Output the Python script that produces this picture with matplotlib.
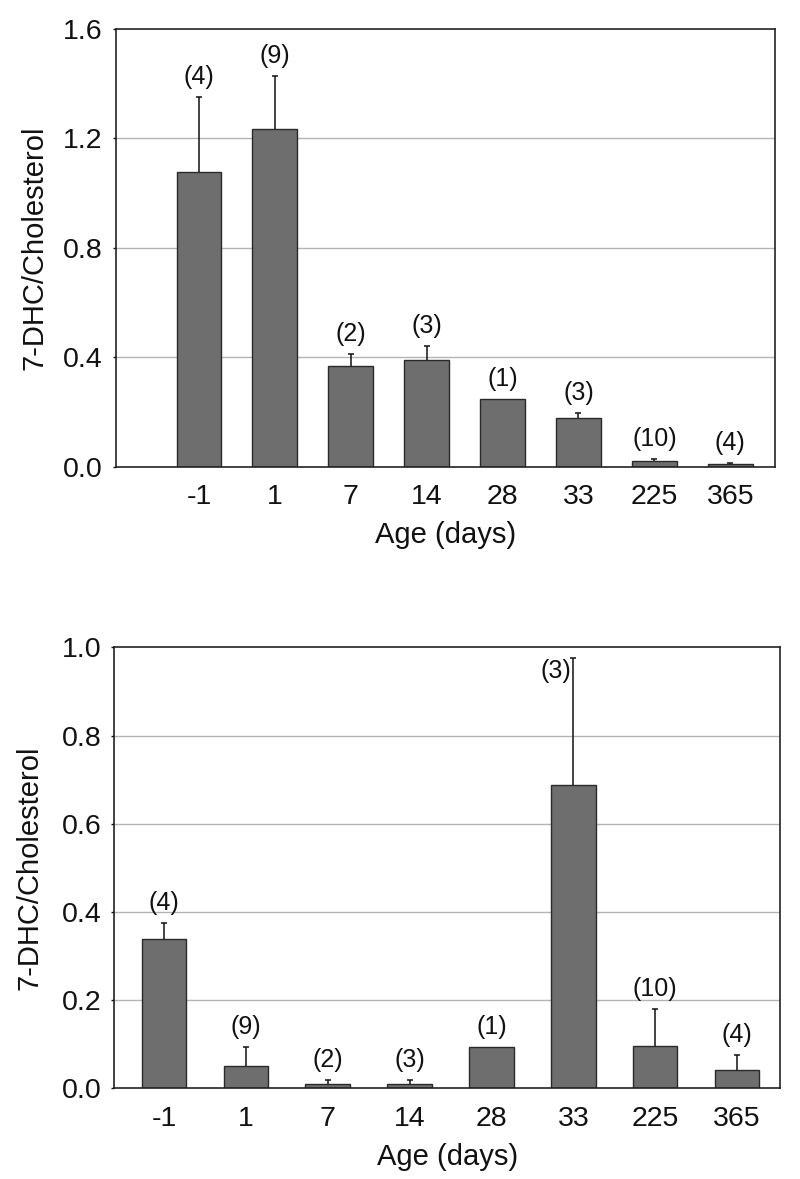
import matplotlib
matplotlib.use("Agg")
import matplotlib.pyplot as plt
import numpy as np

plt.rcParams['font.family'] = ['Liberation Sans', 'DejaVu Sans']

ages = ["-1", "1", "7", "14", "28", "33", "225", "365"]
n_labels = ["(4)", "(9)", "(2)", "(3)", "(1)", "(3)", "(10)", "(4)"]

top_means = [1.079, 1.235, 0.369, 0.389, 0.248, 0.179, 0.020, 0.009]
top_err = [0.274, 0.195, 0.042, 0.053, 0.0, 0.016, 0.008, 0.006]

bot_means = [0.339, 0.051, 0.0105, 0.0105, 0.094, 0.689, 0.095, 0.0415]
bot_err = [0.036, 0.043, 0.009, 0.009, 0.0, 0.288, 0.085, 0.033]

BAR_FC = '#6e6e6e'
BAR_EC = '#2a2a2a'
GRID_C = '#b4b4b4'
SPINE_C = '#222222'

fig = plt.figure(figsize=(8.0, 11.79), dpi=100)

def draw(ax, means, errs, ylim, yticks, xlim, width, inside_idx=None):
    x = np.arange(len(ages))
    ax.set_xlim(*xlim)
    ax.set_ylim(*ylim)
    ax.set_yticks(yticks)
    ax.set_yticklabels([f"{t:.1f}" for t in yticks])
    for t in yticks[1:-1]:
        ax.axhline(t, color=GRID_C, lw=1.0, zorder=0)
    ax.bar(x, means, width=width, color=BAR_FC, edgecolor=BAR_EC, linewidth=1.0, zorder=2)
    for i, (m, e) in enumerate(zip(means, errs)):
        if e > 0:
            cont = ax.errorbar([x[i]], [m], yerr=[[0], [e]], fmt='none', ecolor='#111111',
                               elinewidth=1.1, capsize=2.5, capthick=1.1, zorder=3)
            caps = cont[1]
            for c in caps:
                if np.allclose(c.get_ydata(), m):
                    c.set_visible(False)
    for i, (m, e) in enumerate(zip(means, errs)):
        top = m + e
        if inside_idx is not None and i == inside_idx:
            ax.annotate(n_labels[i], xy=(x[i], top), xytext=(-1.5, -10),
                        textcoords='offset points', ha='right', va='center',
                        fontsize=18, color='#111111', zorder=4)
        else:
            ax.annotate(n_labels[i], xy=(x[i], top), xytext=(0, 14.4),
                        textcoords='offset points', ha='center', va='center',
                        fontsize=18, color='#111111', zorder=4)
    ax.set_xticks(x)
    ax.set_xticklabels(ages)
    ax.tick_params(axis='x', length=0, pad=12.5, labelsize=20.5, colors='#111111')
    ax.tick_params(axis='y', length=2.5, width=1.0, pad=7, labelsize=20.5, colors='#111111')
    for s in ax.spines.values():
        s.set_color(SPINE_C)
        s.set_linewidth(1.2)
    ax.set_xlabel("Age (days)", fontsize=21, labelpad=8, color='#111111')
    ax.set_ylabel("7-DHC/Cholesterol", fontsize=21, color='#111111')

ax1 = fig.add_axes([0.145, 0.6042, 0.82375, 0.3712])
draw(ax1, top_means, top_err, (0, 1.6), [0.0, 0.4, 0.8, 1.2, 1.6], (-1.093, 7.589), 0.59)
ax1.yaxis.set_label_coords(-0.103, 0.5)

ax2 = fig.add_axes([0.1429, 0.07693, 0.8321, 0.3739])
draw(ax2, bot_means, bot_err, (0, 1.0), [0.0, 0.2, 0.4, 0.6, 0.8, 1.0], (-0.607, 7.525), 0.544, inside_idx=5)
ax2.yaxis.set_label_coords(-0.107, 0.5)

fig.savefig("out.png", dpi=100)
